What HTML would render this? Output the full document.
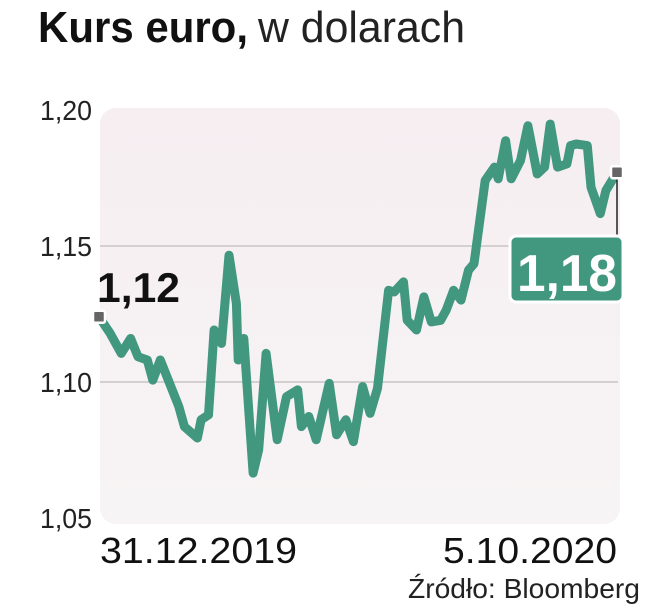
<!DOCTYPE html>
<html><head><meta charset="utf-8"><style>
body{margin:0;background:#fff;}
svg{display:block;font-family:"Liberation Sans",sans-serif;}
</style></head><body>
<svg id="c" width="662" height="610" viewBox="0 0 662 610">
<defs><linearGradient id="bg" x1="0" y1="0" x2="0" y2="1"><stop offset="0" stop-color="#f6eef1"/><stop offset="1" stop-color="#f7f4f5"/></linearGradient></defs>
<text x="38" y="42" font-size="44" font-weight="bold" fill="#111" textLength="210" lengthAdjust="spacingAndGlyphs">Kurs euro,</text>
<text x="258" y="42" font-size="44" fill="#222" textLength="207" lengthAdjust="spacingAndGlyphs">w dolarach</text>
<rect x="100" y="108" width="520" height="416" rx="16" fill="url(#bg)"/>
<g id="grid"></g>
<g id="ylabels"></g>
<path id="line" fill="none" stroke="#42977f" stroke-width="9" stroke-linejoin="round" stroke-linecap="round"/>
<g id="ann"></g>
<text x="100" y="563" font-size="36" fill="#111" textLength="197" lengthAdjust="spacingAndGlyphs">31.12.2019</text>
<text x="443" y="563" font-size="36" fill="#111" textLength="174" lengthAdjust="spacingAndGlyphs">5.10.2020</text>
<text x="408" y="598" font-size="28" fill="#222" textLength="232" lengthAdjust="spacingAndGlyphs">Źródło: Bloomberg</text>
</svg>
<script>
const days=[0,6,12,17,21,26,29,33,38,43,46,53,55,59,62,66,70,74,75,78,83,86,90,96,101,107,109,113,117,124,128,133,137,142,146,150,156,159,164,166,171,175,179,184,187,191,195,199,202,208,213,215,219,222,227,231,236,240,243,247,252,254,257,263,265,270,273,279];
const rates=[1.124,1.1179,1.1105,1.116,1.1093,1.1081,1.1007,1.1081,1.0995,1.091,1.0836,1.0794,1.0861,1.0879,1.1191,1.1142,1.1466,1.1289,1.1081,1.116,1.0665,1.0751,1.1105,1.0788,1.0946,1.0971,1.0836,1.0873,1.0788,1.0995,1.0806,1.0861,1.0781,1.0983,1.0885,1.0977,1.1337,1.1331,1.1368,1.1227,1.1191,1.1313,1.1221,1.1227,1.1264,1.1337,1.1301,1.1411,1.1435,1.1741,1.179,1.1747,1.1887,1.1747,1.1814,1.1942,1.1765,1.179,1.1948,1.179,1.1802,1.1869,1.1875,1.1869,1.1716,1.1619,1.1704,1.1771];
const yTicks=[1.20,1.15,1.10,1.05];
const yTickLabels=["1,20","1,15","1,10","1,05"];
const startLabel="1,12", endLabel="1,18";
const NS="http://www.w3.org/2000/svg";
const X=d=>99+(d-days[0])/(days[days.length-1]-days[0])*518;
const Y=v=>246+(1.15-v)/0.05*136;
function mk(t,a,p){const e=document.createElementNS(NS,t);for(const k in a)e.setAttribute(k,a[k]);p.appendChild(e);return e;}
const grid=document.getElementById('grid'),yl=document.getElementById('ylabels'),ann=document.getElementById('ann');
yTicks.forEach((v,i)=>{
  if(v<1.2&&v>1.05){const l=mk('line',{x1:100,x2:618,y1:Y(v),y2:Y(v),stroke:'#c9c4c6','stroke-width':1.5},grid);
  
  }
  const t=mk('text',{x:40,y:Y(v)+10,'font-size':28,fill:'#222',textLength:52,lengthAdjust:'spacingAndGlyphs'},yl);
  t.textContent=yTickLabels[i];
  
  
});
document.getElementById('line').setAttribute('d',days.map((d,i)=>(i?'L':'M')+X(d).toFixed(1)+','+Y(rates[i]).toFixed(1)).join(''));
const x0=X(days[0]),y0=Y(rates[0]),x1=X(days[days.length-1]),y1=Y(rates[rates.length-1]);
const cl=mk('line',{x1:x1,x2:x1,y1:y1,y2:238,stroke:'#222','stroke-width':1.5},ann);


[[x0,y0,'start-marker'],[x1,y1,'end-marker']].forEach(m=>{
  const r=mk('rect',{x:m[0]-6,y:m[1]-6,width:12,height:12,rx:2,fill:'#666',stroke:'#fff','stroke-width':2.5},ann);
  
  
});
const st=mk('text',{x:97,y:302,'font-size':42,'font-weight':'bold',fill:'#111',textLength:83,lengthAdjust:'spacingAndGlyphs'},ann);
st.textContent=startLabel;


const bx=mk('rect',{x:510,y:236,width:113,height:66,rx:6,fill:'#42977f',stroke:'#fff','stroke-width':3},ann);


const et=mk('text',{x:517,y:291,'font-size':52,'font-weight':'bold',fill:'#fff',textLength:100,lengthAdjust:'spacingAndGlyphs'},ann);
et.textContent=endLabel;


</script>
</body></html>
